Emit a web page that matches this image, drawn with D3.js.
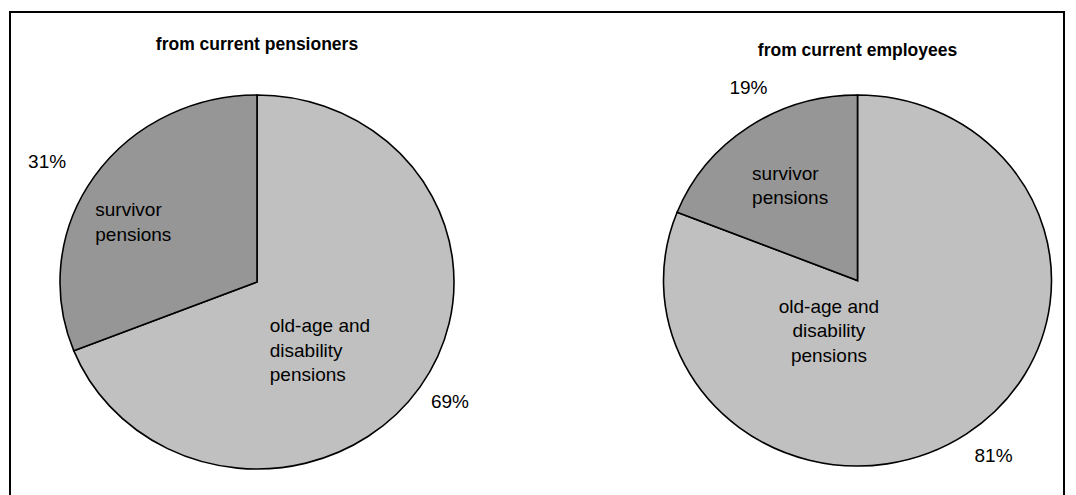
<!DOCTYPE html>
<html>
<head>
<meta charset="utf-8">
<script src="https://cdn.jsdelivr.net/npm/d3@7"></script>
<style>
  body { margin: 0; background: #fff; }
  text { font-family: "Liberation Sans", Arial, sans-serif; fill: #000; }
</style>
</head>
<body>
<div id="chart"></div>
<script>
// data
const categories = ['old-age and disability pensions', 'survivor pensions'];
const categoryLines = [['old-age and', 'disability', 'pensions'], ['survivor', 'pensions']];
const pieTitles = ['from current pensioners', 'from current employees'];
const pensionerShares = [69, 31];
const employeeShares = [81, 19];

const sliceColors = ['#c0c0c0', '#969696'];

const outerWidth = 1076;
const outerHeight = 495;

// layout of each pie (the original is slightly stretched, so rx != ry)
// label shifts are nudges away from the computed rim point / centroid
const pies = [
  { title: pieTitles[0], values: pensionerShares, cx: 257, cy: 282, rx: 197, ry: 187, titleY: 50,
    pctShift: [[30, 14], [-47, -16]],
    innerShift: [[-85, 5], [-64, 3]], innerAnchor: ['start', 'start'] },
  { title: pieTitles[1], values: employeeShares, cx: 857.5, cy: 280.5, rx: 194, ry: 185.5, titleY: 56,
    pctShift: [[27, 21], [0, -40]],
    innerShift: [[-94, -42], [-40, -3]], innerAnchor: ['middle', 'start'] }
];

const labelSize = 19;
const lineHeight = 24.5;

const svg = d3.select('#chart')
  .append('svg')
  .attr('width', outerWidth)
  .attr('height', outerHeight);

// chart frame
svg.append('rect')
  .attr('x', 10)
  .attr('y', 12)
  .attr('width', 1054)
  .attr('height', 500)
  .attr('fill', 'none')
  .attr('stroke', '#000')
  .attr('stroke-width', 2);

const pie = d3.pie().sort(null).value(d => d);

pies.forEach(p => {
  const arcs = pie(p.values);
  const arc = d3.arc().innerRadius(0).outerRadius(p.rx);
  const innerArc = d3.arc().innerRadius(0).outerRadius(p.rx * 1.2); // centroid at 0.6 r
  const sy = p.ry / p.rx;

  const g = svg.append('g')
    .attr('transform', 'translate(' + p.cx + ',' + p.cy + ')');

  g.append('g')
    .attr('transform', 'scale(1,' + sy + ')')
    .selectAll('path')
    .data(arcs)
    .enter()
    .append('path')
    .attr('d', arc)
    .attr('fill', (d, i) => sliceColors[i])
    .attr('stroke', '#000')
    .attr('stroke-width', 1.6)
    .attr('stroke-linejoin', 'miter')
    .attr('vector-effect', 'non-scaling-stroke');

  // title
  svg.append('text')
    .attr('x', p.cx)
    .attr('y', p.titleY)
    .attr('text-anchor', 'middle')
    .style('font-size', '17.5px')
    .style('font-weight', 'bold')
    .text(p.title);

  // percentage labels just outside the rim
  arcs.forEach((a, i) => {
    const mid = (a.startAngle + a.endAngle) / 2;
    const x = Math.sin(mid) * p.rx + p.pctShift[i][0];
    const y = -Math.cos(mid) * p.ry + p.pctShift[i][1];
    g.append('text')
      .attr('x', x)
      .attr('y', y)
      .attr('dy', '0.35em')
      .attr('text-anchor', 'middle')
      .style('font-size', labelSize + 'px')
      .text(d3.format('.0f')(a.data) + '%');
  });

  // category labels inside the slices
  arcs.forEach((a, i) => {
    const c = innerArc.centroid(a);
    const x = c[0] + p.innerShift[i][0];
    const y = c[1] * sy + p.innerShift[i][1];
    const lines = categoryLines[i];
    const t = g.append('text')
      .attr('text-anchor', p.innerAnchor[i])
      .style('font-size', labelSize + 'px');
    t.selectAll('tspan')
      .data(lines)
      .enter()
      .append('tspan')
      .attr('x', x)
      .attr('y', (d, k) => y + (k - (lines.length - 1) / 2) * lineHeight)
      .attr('dy', '0.35em')
      .text(d => d);
  });
});
</script>
</body>
</html>
